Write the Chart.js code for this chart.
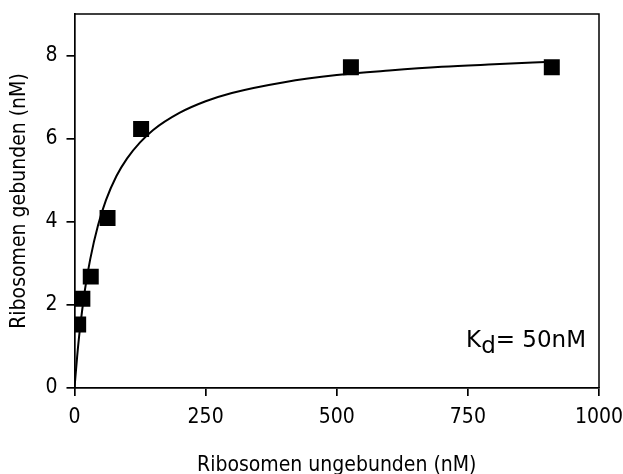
<!DOCTYPE html>
<html>
<head>
<meta charset="utf-8">
<script src="https://cdn.jsdelivr.net/npm/chart.js@4/dist/chart.umd.min.js"></script>
<style>
  html, body { margin: 0; padding: 0; background: #fff; }
  #wrap { width: 623px; height: 474px; }
</style>
</head>
<body>
<div id="wrap"><canvas id="myChart" width="623" height="474"></canvas></div>
<script>
// Messpunkte
const pointX = [7, 15, 31, 63, 127, 527, 910];
const pointY = [1.53, 2.15, 2.68, 4.09, 6.23, 7.72, 7.72];

// Angepasste Kurve
const fitX = [0, 5, 10, 20, 30, 45, 60, 80, 100, 125, 150, 200, 250, 300, 400, 500, 600, 700, 800, 910];
const fitY = [0, 0.75, 1.38, 2.37, 3.10, 3.92, 4.52, 5.10, 5.52, 5.91, 6.21, 6.62, 6.90, 7.10, 7.36, 7.53, 7.64, 7.73, 7.79, 7.85];

// Achsen
const xTicks = [0, 250, 500, 750, 1000];
const yTicks = [0, 2, 4, 6, 8];
const xTitle = 'Ribosomen ungebunden (nM)';
const yTitle = 'Ribosomen gebunden (nM)';

const FONT = 'DejaVu Sans Condensed';

function toXY(xs, ys) {
  return xs.map((x, i) => ({ x: x, y: ys[i] }));
}

// Rahmen oben/rechts und Kd-Beschriftung
const extras = {
  id: 'extras',
  afterDraw(chart) {
    const ctx = chart.ctx;
    const a = chart.chartArea;
    ctx.save();
    ctx.strokeStyle = '#000';
    ctx.lineWidth = 1.5;
    ctx.beginPath();
    ctx.moveTo(a.left, a.top);
    ctx.lineTo(a.right, a.top);
    ctx.lineTo(a.right, a.bottom);
    ctx.stroke();

    ctx.fillStyle = '#000';
    ctx.font = '23px "DejaVu Sans"';
    ctx.textBaseline = 'alphabetic';
    const parts = ['K', 'd', '= 50nM'];
    const w = parts.reduce((s, p) => s + ctx.measureText(p).width, 0);
    let x = a.right - 13 - w;
    const base = a.bottom - 41;
    ctx.fillText('K', x, base);
    x += ctx.measureText('K').width;
    ctx.fillText('d', x, base + 6);
    x += ctx.measureText('d').width;
    ctx.fillText('= 50nM', x, base);
    ctx.restore();
  }
};

const ctx = document.getElementById('myChart').getContext('2d');
new Chart(ctx, {
  type: 'scatter',
  data: {
    datasets: [{
      label: 'Messwerte',
      data: toXY(pointX, pointY),
      pointStyle: 'rect',
      pointRadius: 11.3,
      pointBackgroundColor: '#000',
      pointBorderColor: '#000',
      pointBorderWidth: 0,
      showLine: false
    }, {
      label: 'Fit',
      data: toXY(fitX, fitY),
      showLine: true,
      borderColor: '#000',
      borderWidth: 2,
      pointRadius: 0,
      cubicInterpolationMode: 'monotone',
      fill: false
    }]
  },
  options: {
    responsive: false,
    animation: false,
    layout: { padding: { top: 14, right: 24, left: 0, bottom: 0 } },
    plugins: {
      legend: { display: false },
      tooltip: { enabled: false }
    },
    scales: {
      x: {
        type: 'linear',
        min: 0,
        max: 1000,
        afterBuildTicks: s => { s.ticks = xTicks.map(v => ({ value: v })); },
        afterFit: s => { s.height = 86; s.paddingLeft = 0; s.paddingRight = 0; },
        border: { display: true, color: '#000', width: 1.7 },
        grid: { drawOnChartArea: false, drawTicks: true, tickLength: 8, color: '#000', lineWidth: 1.7 },
        ticks: { color: '#000', font: { family: FONT, size: 21 }, padding: 9, maxRotation: 0, callback: v => String(v) },
        title: { display: true, text: xTitle, color: '#000', font: { family: FONT, size: 21 }, padding: { top: 4, bottom: -4 } }
      },
      y: {
        type: 'linear',
        min: 0,
        max: 9,
        afterBuildTicks: s => { s.ticks = yTicks.map(v => ({ value: v })); },
        afterFit: s => { s.width = 74.5; s.paddingTop = 0; s.paddingBottom = 0; },
        border: { display: true, color: '#000', width: 1.7 },
        grid: { drawOnChartArea: false, drawTicks: true, tickLength: 8, color: '#000', lineWidth: 1.7 },
        ticks: { color: '#000', font: { family: FONT, size: 21 }, padding: 9 },
        title: { display: true, text: yTitle, color: '#000', font: { family: FONT, size: 21 }, padding: { top: 7, bottom: 0 } }
      }
    }
  },
  plugins: [extras]
});
</script>
</body>
</html>
